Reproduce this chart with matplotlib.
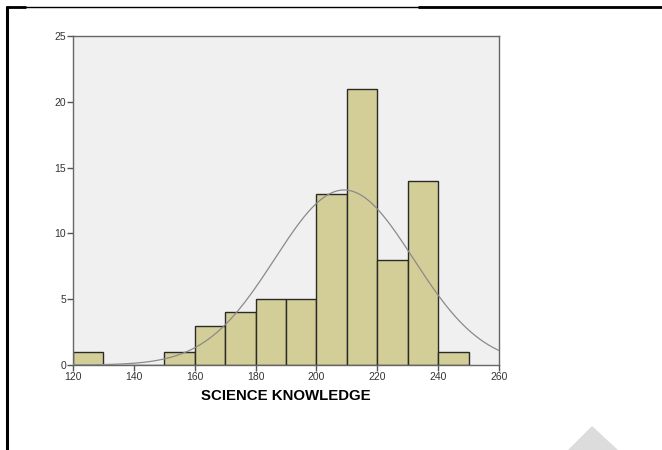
import numpy as np
import matplotlib
matplotlib.use('Agg')
import matplotlib.pyplot as plt
from matplotlib.lines import Line2D
from matplotlib.patches import Polygon

# Histogram data (bin edges of width 10, counts)
bin_left = [120, 130, 140, 150, 160, 170, 180, 190, 200, 210, 220, 230, 240]
counts = [1, 0, 0, 1, 3, 4, 5, 5, 13, 21, 8, 14, 1]
bin_width = 10

# Normal curve parameters (SPSS style overlay)
curve_mean = 209.1
curve_sd = 22.8
n_total = sum(counts)

x_ticks = [120, 140, 160, 180, 200, 220, 240, 260]
y_ticks = [0, 5, 10, 15, 20, 25]
x_label = 'SCIENCE KNOWLEDGE'

W, H = 662, 450
fig = plt.figure(figsize=(W / 100, H / 100), dpi=100)
fig.patch.set_facecolor('white')

# Axes placement in pixels
left, right, top, bottom = 73, 499, 36, 365
ax = fig.add_axes([left / W, 1 - bottom / H, (right - left) / W, (bottom - top) / H])
ax.set_facecolor('#f0f0f0')

# Bars
ax.bar(bin_left, counts, width=bin_width, align='edge',
       color='#d3ce97', edgecolor='#2a2a2a', linewidth=1.0, zorder=2)

# Normal curve
xs = np.linspace(120, 260, 400)
ys = n_total * bin_width / (curve_sd * np.sqrt(2 * np.pi)) * np.exp(-0.5 * ((xs - curve_mean) / curve_sd) ** 2)
ax.plot(xs, ys, color='#8a8a8a', linewidth=0.9, zorder=3)

ax.set_xlim(120, 260)
ax.set_ylim(0, 25)
ax.set_xticks(x_ticks)
ax.set_yticks(y_ticks)
ax.tick_params(axis='both', direction='out', length=4, width=1, color='#555555',
               labelsize=7.5, labelcolor='#333333', pad=1)
for side in ['left', 'right', 'top', 'bottom']:
    ax.spines[side].set_color('#666666')
    ax.spines[side].set_linewidth(1.0)

ax.set_xlabel(x_label, fontsize=10.8, fontweight='bold', family='Liberation Sans', labelpad=5)
for lbl in ax.get_xticklabels() + ax.get_yticklabels():
    lbl.set_family('Liberation Sans')

# Page frame lines
def px(x, y):
    return x / W, 1 - y / H

fig.add_artist(Line2D(*zip(px(7, 7), px(662, 7)), color='black', linewidth=1.0, solid_capstyle='butt'))
fig.add_artist(Line2D(*zip(px(6, 7), px(26, 7)), color='black', linewidth=2.0, solid_capstyle='butt'))
fig.add_artist(Line2D(*zip(px(418, 7), px(662, 7)), color='black', linewidth=2.0, solid_capstyle='butt'))
fig.add_artist(Line2D(*zip(px(6.5, 6), px(6.5, 450)), color='black', linewidth=2.2, solid_capstyle='butt'))

# Gray watermark triangle bottom right
tri = Polygon([px(568, 450), px(592, 426), px(618, 450)], closed=True,
              facecolor='#dcdcdc', edgecolor='none', transform=fig.transFigure)
fig.add_artist(tri)

fig.savefig('out.png', dpi=100)
